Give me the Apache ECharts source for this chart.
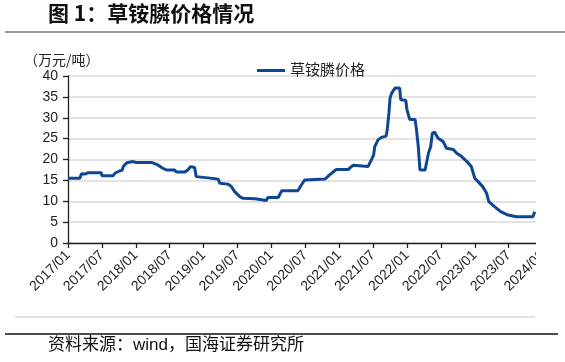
<!DOCTYPE html>
<html>
<head>
<meta charset="utf-8">
<script src="https://cdn.jsdelivr.net/npm/echarts@6/dist/echarts.min.js"></script>
<style>
html,body{margin:0;padding:0;background:#fff;}
#chart{width:565px;height:362px;}
</style>
</head>
<body>
<div id="chart"></div>
<script>
// ---- data ----
const titleText = '图 1：草铵膦价格情况';
const unitText = '（万元/吨）';
const seriesName = '草铵膦价格';
const sourceText = '资料来源：wind，国海证券研究所';
const xTickLabels = ['2017/01','2017/07','2018/01','2018/07','2019/01','2019/07','2020/01','2020/07',
  '2021/01','2021/07','2022/01','2022/07','2023/01','2023/07','2024/01'];
const yTicks = [0,5,10,15,20,25,30,35,40];
const dates = [
 '2017-01-01','2017-03-04','2017-03-13','2017-04-01','2017-04-16','2017-06-28','2017-07-01','2017-09-01',
 '2017-09-10','2017-10-07','2017-10-19','2017-10-25','2017-11-13','2017-12-16','2017-12-25','2018-01-04',
 '2018-03-25','2018-04-04','2018-04-28','2018-05-25','2018-06-13','2018-07-28','2018-08-07','2018-09-22',
 '2018-10-10','2018-10-22','2018-11-13','2018-11-22','2019-01-25','2019-02-01','2019-03-19','2019-03-28',
 '2019-05-10','2019-05-28','2019-06-16','2019-07-13','2019-08-01','2019-10-04','2019-12-04','2019-12-13',
 '2020-02-07','2020-02-25','2020-05-22','2020-06-10','2020-06-28','2020-07-07','2020-10-16','2020-11-10',
 '2020-12-16','2021-02-19','2021-02-28','2021-03-16','2021-03-25','2021-06-04','2021-06-22','2021-07-04',
 '2021-07-10','2021-07-28','2021-08-16','2021-09-10','2021-09-16','2021-09-25','2021-10-01','2021-10-10',
 '2021-10-28','2021-11-22','2021-11-28','2021-12-25','2022-01-01','2022-01-16','2022-02-13','2022-02-20',
 '2022-03-01','2022-03-10','2022-04-07','2022-04-25','2022-05-07','2022-05-16','2022-05-28','2022-06-16',
 '2022-07-13','2022-08-01','2022-09-07','2022-09-25','2022-10-22','2022-11-19','2022-12-13','2023-01-01',
 '2023-01-19','2023-02-12','2023-03-04','2023-03-16','2023-04-16','2023-05-19','2023-06-28','2023-08-13',
 '2023-11-10','2023-11-19'
];
const prices = [
 15.5,15.5,16.6,16.5,16.8,16.8,16.1,16.1,
 16.7,17.3,17.4,18.3,19.2,19.5,19.8,19.3,
 19.3,19.1,18.7,17.9,17.5,17.5,17.0,17.0,
 17.6,18.3,18.1,15.9,15.6,15.3,15.3,14.3,
 14.1,13.6,12.3,11.1,10.7,10.6,10.2,10.9,
 10.9,12.5,12.5,13.9,15.1,15.3,15.3,16.3,
 17.6,17.6,18.1,18.6,18.3,18.3,19.9,21.1,
 23.1,24.7,25.3,25.6,27.1,31.1,34.7,35.9,
 37.1,37.1,34.3,34.2,31.9,29.6,29.6,27.1,
 23.1,17.5,17.5,21.5,23.1,26.3,26.6,25.1,
 24.3,22.7,22.4,21.5,20.7,19.5,18.3,15.5,
 14.7,13.5,11.9,9.9,8.7,7.5,6.7,6.3,
 6.3,7.5
];

// month index from 2017/01
function monthIndex(s){
  const [y,m,d] = s.split('-').map(Number);
  const dim = new Date(y, m, 0).getDate();
  return (y-2017)*12 + (m-1) + (d-1)/dim;
}
const seriesData = dates.map((d,i)=>[monthIndex(d), prices[i]]);

const FONT_LATIN = '"Liberation Sans", Arial, "Noto Sans CJK SC", sans-serif';
const FONT_CJK = '"Liberation Sans", "Noto Sans CJK SC", sans-serif';

const chart = echarts.init(document.getElementById('chart'), null, {renderer:'canvas'});
chart.setOption({
  backgroundColor:'#ffffff',
  animation:false,
  grid:{left:68, right:22.4, top:76, bottom:119, containLabel:false},
  legend:{
    data:[{name:seriesName, icon:'rect'}],
    left:252, top:58,
    itemWidth:28, itemHeight:3, itemGap:10,
    textStyle:{fontFamily:FONT_CJK, fontSize:15, color:'#222'}
  },
  xAxis:{
    type:'value', min:0, max:84, interval:6,
    axisLine:{show:true, lineStyle:{color:'#222', width:1.3}},
    axisTick:{show:true, length:5, lineStyle:{color:'#222', width:1.3}},
    splitLine:{show:false},
    axisLabel:{
      rotate:45, margin:10, fontFamily:FONT_LATIN, fontSize:14, color:'#222',
      formatter:(v)=> xTickLabels[Math.round(v/6)] || ''
    }
  },
  yAxis:{
    type:'value', min:yTicks[0], max:yTicks[yTicks.length-1], interval:5,
    axisLine:{show:true, lineStyle:{color:'#222', width:1.3}},
    axisTick:{show:true, length:5, lineStyle:{color:'#222', width:1.3}},
    splitLine:{show:true, lineStyle:{color:'#d9d9d9', width:1.5}},
    axisLabel:{margin:10, fontFamily:FONT_LATIN, fontSize:14, color:'#222'}
  },
  series:[{
    name:seriesName, type:'line', data:seriesData,
    showSymbol:false, symbol:'none',
    lineStyle:{color:'#0D4791', width:3},
    itemStyle:{color:'#0D4791'},
    z:3
  }],
  graphic:[
    {type:'rect', z:100, shape:{x:536, y:40, width:40, height:270}, style:{fill:'#fff'}},
    {type:'text', z:110, left:48, top:3, style:{text:titleText, font:'bold 21px "Noto Sans CJK SC", sans-serif', fill:'#111'}},
    {type:'line', z:110, shape:{x1:5, y1:32, x2:565, y2:32}, style:{stroke:'#777', lineWidth:1.5}},
    {type:'text', z:110, left:24, top:53, style:{text:unitText, font:'14px "Noto Sans CJK SC", sans-serif', fill:'#222'}},
    {type:'line', z:110, shape:{x1:15, y1:317, x2:535, y2:317}, style:{stroke:'#d9d9d9', lineWidth:1.5}},
    {type:'line', z:110, shape:{x1:5, y1:334, x2:558, y2:334}, style:{stroke:'#111', lineWidth:1.3}},
    {type:'text', z:110, left:48, top:337, style:{text:sourceText, font:'17px "Liberation Sans", "Noto Sans CJK SC", sans-serif', fill:'#111'}}
  ]
});
</script>
</body>
</html>
